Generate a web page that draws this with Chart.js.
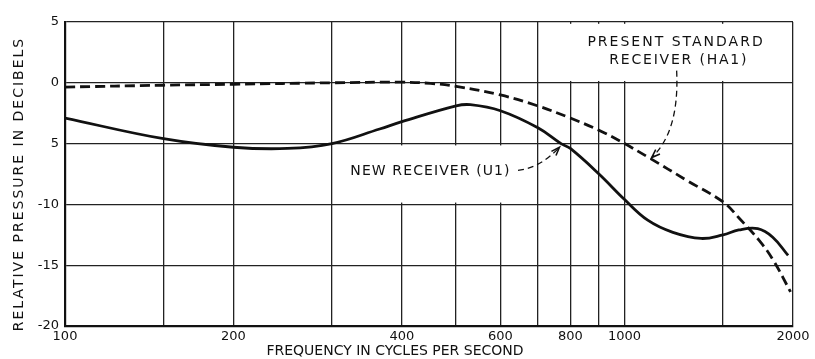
<!DOCTYPE html>
<html>
<head>
<meta charset="utf-8">
<script src="https://cdn.jsdelivr.net/npm/chart.js@4.4.0/dist/chart.umd.min.js"></script>
<style>
  html, body { margin: 0; padding: 0; background: #fff; }
</style>
</head>
<body>
<canvas id="myChart" width="815" height="359"></canvas>
<script>
// present standard receiver (HA1), frequency in c/s and relative pressure in db
const ha1Freq = [100, 150, 200, 300, 400, 450, 500, 600, 700, 800, 900, 1000, 1100, 1300, 1500, 1600, 1750, 1850, 1980];
const ha1Db   = [-0.35, -0.2, -0.12, 0.0, 0.05, -0.05, -0.3, -1.0, -1.9, -2.9, -3.9, -5.0, -6.1, -8.1, -9.8, -11.1, -13.1, -14.7, -17.2];

// new receiver (U1)
const u1Freq = [100, 150, 200, 250, 300, 365, 400, 500, 530, 600, 700, 770, 800, 900, 1000, 1100, 1220, 1370, 1500, 1600, 1730, 1840, 1960];
const u1Db   = [-2.9, -4.6, -5.3, -5.4, -5.0, -3.8, -3.2, -1.9, -1.8, -2.3, -3.7, -5.0, -5.4, -7.5, -9.6, -11.3, -12.3, -12.8, -12.5, -12.1, -12.0, -12.7, -14.2];

// axis ticks
const xGridValues = [100, 150, 200, 300, 400, 500, 600, 700, 800, 900, 1000, 1500, 2000];
const xLabelValues = [100, 200, 400, 600, 800, 1000, 2000];
const yTickValues = [5, 0, -5, -10, -15, -20];
const yTickLabels = ['5', '0', '5', '-10', '-15', '-20'];

const xTitle = 'FREQUENCY IN CYCLES PER SECOND';
const yTitle = 'RELATIVE PRESSURE IN DECIBELS';

const FONT = '"DejaVu Sans", sans-serif';

// lettering on the plot, placed in data units
const notes = [
  { text: 'PRESENT STANDARD', f: 1236, v: 3.3, spacing: 2 },
  { text: 'RECEIVER (HA1)', f: 1250, v: 1.85, spacing: 1.8 },
  { text: 'NEW RECEIVER (U1)', f: 450, v: -7.3, spacing: 1.1 }
];
// white patches the lettering was put on (they hide the grid)
const patches = [
  { f0: 745, f1: 1960, v0: 4.85, v1: 0.15 },
  { f0: 330, f1: 640, v0: -5.15, v1: -9.85 }
];
// dashed pointers: start, bend, tip
const pointers = [
  { from: [1239, 1.0], via: [1254, -4.0], to: [1118, -6.15] },
  { from: [645, -7.2], via: [707, -7.0], to: [765, -5.3] }
];

const ctx = document.getElementById('myChart').getContext('2d');

const lettering = {
  id: 'lettering',
  beforeDatasetsDraw(chart) {
    const c = chart.ctx, x = chart.scales.x, y = chart.scales.y;
    c.save();
    c.fillStyle = '#fff';
    patches.forEach(p => {
      const x0 = x.getPixelForValue(p.f0), x1 = x.getPixelForValue(p.f1);
      const y0 = y.getPixelForValue(p.v0), y1 = y.getPixelForValue(p.v1);
      c.fillRect(x0, y0, x1 - x0, y1 - y0);
    });
    c.fillStyle = '#111';
    c.font = '14px ' + FONT;
    c.textAlign = 'center';
    c.textBaseline = 'middle';
    notes.forEach(n => {
      c.letterSpacing = n.spacing + 'px';
      c.fillText(n.text, x.getPixelForValue(n.f), y.getPixelForValue(n.v));
    });
    c.restore();
  },
  afterDatasetsDraw(chart) {
    const c = chart.ctx, x = chart.scales.x, y = chart.scales.y;
    c.save();
    c.strokeStyle = '#111';
    c.lineWidth = 1.3;
    pointers.forEach(p => {
      const sx = x.getPixelForValue(p.from[0]), sy = y.getPixelForValue(p.from[1]);
      const cx = x.getPixelForValue(p.via[0]), cy = y.getPixelForValue(p.via[1]);
      const ex = x.getPixelForValue(p.to[0]), ey = y.getPixelForValue(p.to[1]);
      c.setLineDash([6, 4]);
      c.beginPath();
      c.moveTo(sx, sy);
      c.quadraticCurveTo(cx, cy, ex, ey);
      c.stroke();
      // arrow head
      const a = Math.atan2(ey - cy, ex - cx);
      c.setLineDash([]);
      c.lineWidth = 1.6;
      c.beginPath();
      c.moveTo(ex - 9 * Math.cos(a - 0.35), ey - 9 * Math.sin(a - 0.35));
      c.lineTo(ex, ey);
      c.lineTo(ex - 9 * Math.cos(a + 0.35), ey - 9 * Math.sin(a + 0.35));
      c.stroke();
      c.lineWidth = 1.3;
    });
    c.restore();
  },
  afterDraw(chart) {
    const c = chart.ctx;
    c.save();
    c.fillStyle = '#111';
    c.font = '14px ' + FONT;
    c.textAlign = 'center';
    c.textBaseline = 'middle';
    c.letterSpacing = '0px';
    c.fillText(xTitle, 395, 351);
    c.translate(19, 184);
    c.rotate(-Math.PI / 2);
    c.letterSpacing = '2px';
    c.fillText(yTitle, 0, 0);
    c.restore();
  }
};

new Chart(ctx, {
  type: 'line',
  data: {
    datasets: [
      {
        label: 'Present standard receiver (HA1)',
        data: ha1Freq.map((f, i) => ({ x: f, y: ha1Db[i] })),
        borderColor: '#111',
        borderWidth: 2.8,
        borderDash: [10, 5],
        pointRadius: 0,
        tension: 0.4,
        fill: false
      },
      {
        label: 'New receiver (U1)',
        data: u1Freq.map((f, i) => ({ x: f, y: u1Db[i] })),
        borderColor: '#111',
        borderWidth: 2.8,
        pointRadius: 0,
        tension: 0.4,
        fill: false
      }
    ]
  },
  options: {
    responsive: false,
    animation: false,
    layout: { padding: { left: 0, top: 22, right: 22, bottom: 0 } },
    plugins: { legend: { display: false }, tooltip: { enabled: false } },
    scales: {
      x: {
        type: 'logarithmic',
        min: 100,
        max: 2000,
        afterBuildTicks: axis => { axis.ticks = xGridValues.map(v => ({ value: v })); },
        afterFit: axis => { axis.height = 33; },
        grid: { color: '#222', lineWidth: 1.3, drawTicks: false },
        border: { color: '#111', width: 2.2 },
        ticks: {
          autoSkip: false,
          maxRotation: 0,
          padding: 3,
          color: '#111',
          font: { family: FONT, size: 13 },
          callback: v => xLabelValues.includes(v) ? String(v) : ''
        }
      },
      y: {
        min: -20,
        max: 5,
        afterBuildTicks: axis => { axis.ticks = yTickValues.map(v => ({ value: v })); },
        afterFit: axis => { axis.width = 65; },
        grid: { color: '#222', lineWidth: 1.3, drawTicks: false },
        border: { color: '#111', width: 2.2 },
        ticks: {
          padding: 6,
          color: '#111',
          font: { family: FONT, size: 13 },
          callback: v => yTickLabels[yTickValues.indexOf(v)]
        }
      }
    }
  },
  plugins: [lettering]
});
</script>
</body>
</html>
